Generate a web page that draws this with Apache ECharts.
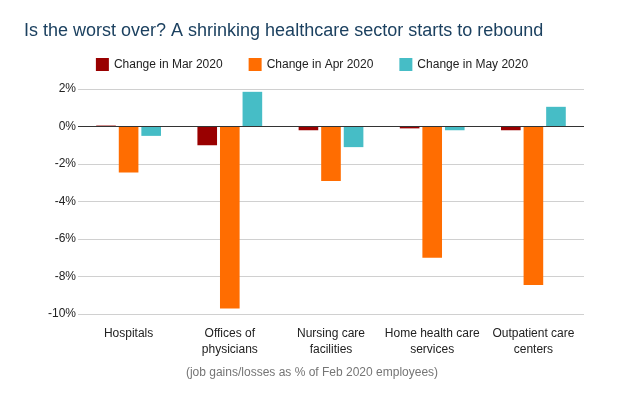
<!DOCTYPE html>
<html><head><meta charset="utf-8">
<script src="https://cdn.jsdelivr.net/npm/echarts@6/dist/echarts.min.js"></script>
<style>html,body{margin:0;padding:0;background:#fff}#c{width:624px;height:400px}</style>
</head><body><div id="c"></div>
<script>
const categories = ['Hospitals', 'Offices of\nphysicians', 'Nursing care\nfacilities', 'Home health care\nservices', 'Outpatient care\ncenters'];
const seriesNames = ['Change in Mar 2020', 'Change in Apr 2020', 'Change in May 2020'];
const mar2020 = [0.05, -1.0, -0.2, -0.1, -0.2];
const apr2020 = [-2.45, -9.7, -2.9, -7.0, -8.45];
const may2020 = [-0.5, 1.85, -1.1, -0.2, 1.05];
const colors = ['#990000', '#ff6d01', '#46bdc6'];
const chart = echarts.init(document.getElementById('c'));
const font = 'Arial, "Liberation Sans", sans-serif';
chart.setOption({
  animation: false,
  textStyle: {fontFamily: font},
  title: {text: 'Is the worst over? A shrinking healthcare sector starts to rebound', left: 19, top: 17,
    textStyle: {fontSize: 18, fontWeight: 'normal', color: '#1c4160', fontFamily: font}},
  legend: {top: 53, left: 'center', itemWidth: 13, itemHeight: 13, itemGap: 26, icon: 'rect',
    textStyle: {fontSize: 12, color: '#222', fontFamily: font}},
  grid: {left: 78, right: 40, top: 89, bottom: 86},
  xAxis: {type: 'category', data: categories, axisTick: {show: false},
    axisLine: {show: false},
    axisLabel: {fontSize: 12, color: '#222', interval: 0, lineHeight: 16, margin: 12}},
  yAxis: {type: 'value', min: -10, max: 2, interval: 2,
    axisLabel: {formatter: v => v + '%', fontSize: 12, color: '#222', margin: 2},
    splitLine: {lineStyle: {color: '#d0d0d0'}}},
  graphic: [{type: 'text', left: 'center', top: 367,
    style: {text: '(job gains/losses as % of Feb 2020 employees)', fill: '#757575', fontSize: 12, fontFamily: font}}],
  series: [mar2020, apr2020, may2020].map((d, i) => ({
    name: seriesNames[i], type: 'bar', data: d, barGap: '15%', barCategoryGap: '36%',
    itemStyle: {color: colors[i]},
    markLine: i === 0 ? {silent: true, symbol: 'none', label: {show: false},
      lineStyle: {color: '#333', type: 'solid', width: 1}, data: [{yAxis: 0}]} : undefined
  }))
});
</script></body></html>
